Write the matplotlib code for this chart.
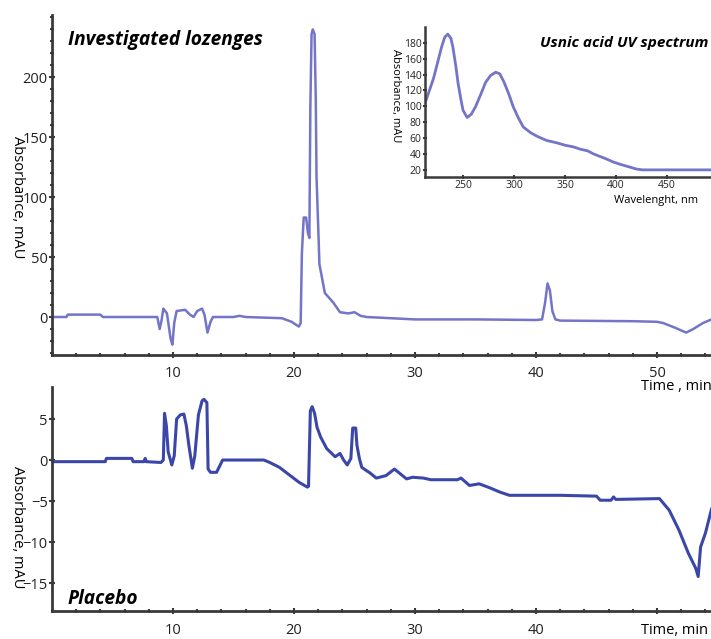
import matplotlib
matplotlib.use("Agg")
import matplotlib.pyplot as plt
from matplotlib.ticker import MultipleLocator, FixedLocator, FixedFormatter

plt.rcParams['font.family'] = ['Open Sans', 'DejaVu Sans']

# ---------------- data ----------------
# Investigated lozenges chromatogram (time, min ; absorbance, mAU)
lz_time = [0, 1.2, 1.3, 4.0, 4.2, 8.7, 8.9, 9.05, 9.2, 9.5, 9.8, 9.95, 10.1, 10.3,
           11.0, 11.4, 11.7, 12.0, 12.4, 12.6, 12.85, 13.1, 13.3, 15.0, 15.5, 16.0,
           19.0, 19.8, 20.4, 20.55, 20.65, 20.8, 21.0, 21.15, 21.27, 21.35, 21.45,
           21.55, 21.7, 21.8, 21.86, 22.0, 22.1, 22.55, 23.25, 23.8, 24.5, 25.0,
           25.5, 26, 28, 30, 35, 40, 40.5, 40.75, 40.95, 41.15, 41.35, 41.6, 42,
           48, 50, 50.5, 51.5, 52.4, 53.0, 53.8, 54.5]
lz_abs = [0, 0, 2, 2, 0, 0, -10, -3, 7, 3, -18, -23, -5, 5,
          6, 2, 0, 5, 7, 2, -13, -4, 0, 0, 1, 0,
          -1, -4, -8, -5, 53, 83, 83, 70, 66, 175, 236,
          240, 236, 181, 117, 75, 44, 20, 12, 4, 3, 4,
          1, 0, -1, -2, -2, -2.5, -2, 12, 28, 22, 5, -2, -3,
          -3.5, -4, -5, -9, -13, -10, -5, -2]

# Placebo chromatogram
pl_time = [0, 4.4, 4.5, 6.6, 6.7, 7.6, 7.7, 7.8, 9.0, 9.2, 9.3, 9.45, 9.6, 9.9,
           10.1, 10.3, 10.6, 10.9, 11.1, 11.3, 11.6, 11.8, 11.95, 12.1, 12.4, 12.55,
           12.8, 12.9, 13.1, 13.6, 14.1, 17.5, 18.0, 18.8, 19.6, 20.4, 21.1, 21.2,
           21.35, 21.5, 21.7, 21.9, 22.2, 22.7, 23.4, 23.8, 24.1, 24.4, 24.7, 24.85,
           25.1, 25.2, 25.4, 25.6, 26.3, 26.8, 27.6, 28.3, 29.3, 29.8, 30.7, 31.3,
           33.5, 33.8, 34.5, 35.3, 36.2, 37.0, 37.8, 42.0, 45.0, 45.3, 46.2, 46.4,
           46.6, 50.2, 51.0, 51.8, 52.6, 53.2, 53.4, 53.6, 54.0, 54.5]
pl_abs = [-0.2, -0.2, 0.2, 0.2, -0.2, -0.2, 0.2, -0.2, -0.3, 0, 5.7, 4.2, 1.0, -0.6,
          0.5, 5.0, 5.5, 5.6, 4.2, 1.9, -1.0, 0.5, 3.0, 5.5, 7.2, 7.4,
          7.0, -1.1, -1.5, -1.5, 0, 0, -0.3, -0.9, -1.8, -2.7, -3.3, -3.2,
          6.0, 6.5, 5.7, 4.0, 2.8, 1.4, 0.4, 0.8, 0, -0.6, 0.2, 3.9,
          3.9, 1.8, 0.2, -0.9, -1.6, -2.2, -1.9, -1.1, -2.3, -2.1, -2.2, -2.4,
          -2.4, -2.2, -3.1, -2.9, -3.4, -3.9, -4.3, -4.3, -4.4, -4.9, -4.9, -4.5,
          -4.8, -4.7, -6.1, -8.5, -11.4, -13.2, -14.2, -10.6, -8.9, -6.0]

# Usnic acid UV spectrum
uv_wl = [213, 217, 221, 225, 229, 232, 235, 238, 240, 243, 245, 248, 250, 254,
         258, 262, 267, 272, 277, 282, 286, 290, 295, 299, 304, 309, 316, 323,
         332, 342, 350, 358, 365, 372, 378, 384, 390, 397, 404, 412, 420, 426, 493]
uv_abs = [105, 120, 135, 155, 175, 187, 191, 186, 175, 150, 130, 108, 95, 86,
          90, 99, 114, 130, 139, 143, 141, 131, 115, 100, 86, 74, 67, 62,
          57, 54, 51, 49, 46, 44, 40, 37, 34, 30, 27, 24, 21, 20, 20]

top_yticks = [0, 50, 100, 150, 200]
bot_yticks = [5, 0, -5, -10, -15]
x_ticks = [10, 20, 30, 40, 50]
top_xlabels = ['10', '20', '30', '40', '50']
bot_xlabels = ['10', '20', '30', '40', '']
uv_xticks = [250, 300, 350, 400, 450]
uv_yticks = [20, 40, 60, 80, 100, 120, 140, 160, 180]

# ---------------- style ----------------
W, H = 711, 639
fig = plt.figure(figsize=(W / 100, H / 100), dpi=100)
spine_c = '#3a3a3a'
top_c = '#7474c8'
bot_c = '#3b47a8'


def style_axes(ax, fs, lw=2.0):
    for s in ['top', 'right']:
        ax.spines[s].set_visible(False)
    for s in ['left', 'bottom']:
        ax.spines[s].set_color(spine_c)
        ax.spines[s].set_linewidth(lw)
    ax.tick_params(which='major', direction='inout', length=4, width=1.5,
                   color=spine_c, labelsize=fs, labelcolor='#222222', pad=1)
    ax.tick_params(which='minor', direction='inout', length=3, width=1.5,
                   color=spine_c)


def fx(px):
    return px / W


def fy(py):
    return 1 - py / H


# Top axes
ax1 = fig.add_axes([fx(52), fy(355), fx(711 - 52), (355 - 15) / H])
ax1.plot(lz_time, lz_abs, color=top_c, lw=1.8, solid_joinstyle='round')
ax1.set_xlim(0, 54.46)
ax1.set_ylim(-31.7, 252)
ax1.xaxis.set_major_locator(FixedLocator(x_ticks))
ax1.xaxis.set_major_formatter(FixedFormatter(top_xlabels))
ax1.xaxis.set_minor_locator(MultipleLocator(2))
ax1.yaxis.set_major_locator(FixedLocator(top_yticks))
ax1.yaxis.set_minor_locator(MultipleLocator(10))
style_axes(ax1, 10.5)
ax1.tick_params(axis='x', pad=6)
fig.text(fx(68), fy(40), 'Investigated lozenges', fontsize=13.8,
         fontweight='bold', fontstyle='italic', va='center', ha='left')
fig.text(fx(641), fy(387), 'Time , min', fontsize=10.5, va='center', ha='left')
fig.text(fx(17), fy(197), 'Absorbance, mAU', fontsize=10.5, rotation=270,
         va='center', ha='center')

# Bottom axes
ax2 = fig.add_axes([fx(52), fy(611), fx(711 - 52), (611 - 387) / H])
ax2.plot(pl_time, pl_abs, color=bot_c, lw=2.2, solid_joinstyle='round')
ax2.set_xlim(0, 54.46)
ax2.set_ylim(-18.4, 8.9)
ax2.xaxis.set_major_locator(FixedLocator(x_ticks))
ax2.xaxis.set_major_formatter(FixedFormatter(bot_xlabels))
ax2.xaxis.set_minor_locator(MultipleLocator(2))
ax2.yaxis.set_major_locator(FixedLocator(bot_yticks))
style_axes(ax2, 10.5)
ax2.tick_params(axis='x', pad=7)
fig.text(fx(68), fy(599), 'Placebo', fontsize=13.8,
         fontweight='bold', fontstyle='italic', va='center', ha='left')
fig.text(fx(641), fy(631), 'Time, min', fontsize=10.5, va='center', ha='left')
fig.text(fx(17), fy(527), 'Absorbance, mAU', fontsize=10.5, rotation=270,
         va='center', ha='center')

# Inset
ax3 = fig.add_axes([fx(425), fy(177), fx(711 - 425), (177 - 27) / H])
ax3.patch.set_alpha(0)
ax3.plot(uv_wl, uv_abs, color=top_c, lw=2.0, solid_joinstyle='round')
ax3.set_xlim(212.7, 493)
ax3.set_ylim(11, 200)
ax3.xaxis.set_major_locator(FixedLocator(uv_xticks))
ax3.yaxis.set_major_locator(FixedLocator(uv_yticks))
style_axes(ax3, 7.5, lw=1.8)
ax3.tick_params(which='major', length=3)
fig.text(fx(540), fy(43), 'Usnic acid UV spectrum', fontsize=11,
         fontweight='bold', fontstyle='italic', va='center', ha='left')
fig.text(fx(614), fy(200), 'Wavelenght, nm', fontsize=8, va='center', ha='left')
fig.text(fx(395), fy(96), 'Absorbance, mAU', fontsize=8, rotation=270,
         va='center', ha='center')

fig.savefig('out.png', dpi=100)
